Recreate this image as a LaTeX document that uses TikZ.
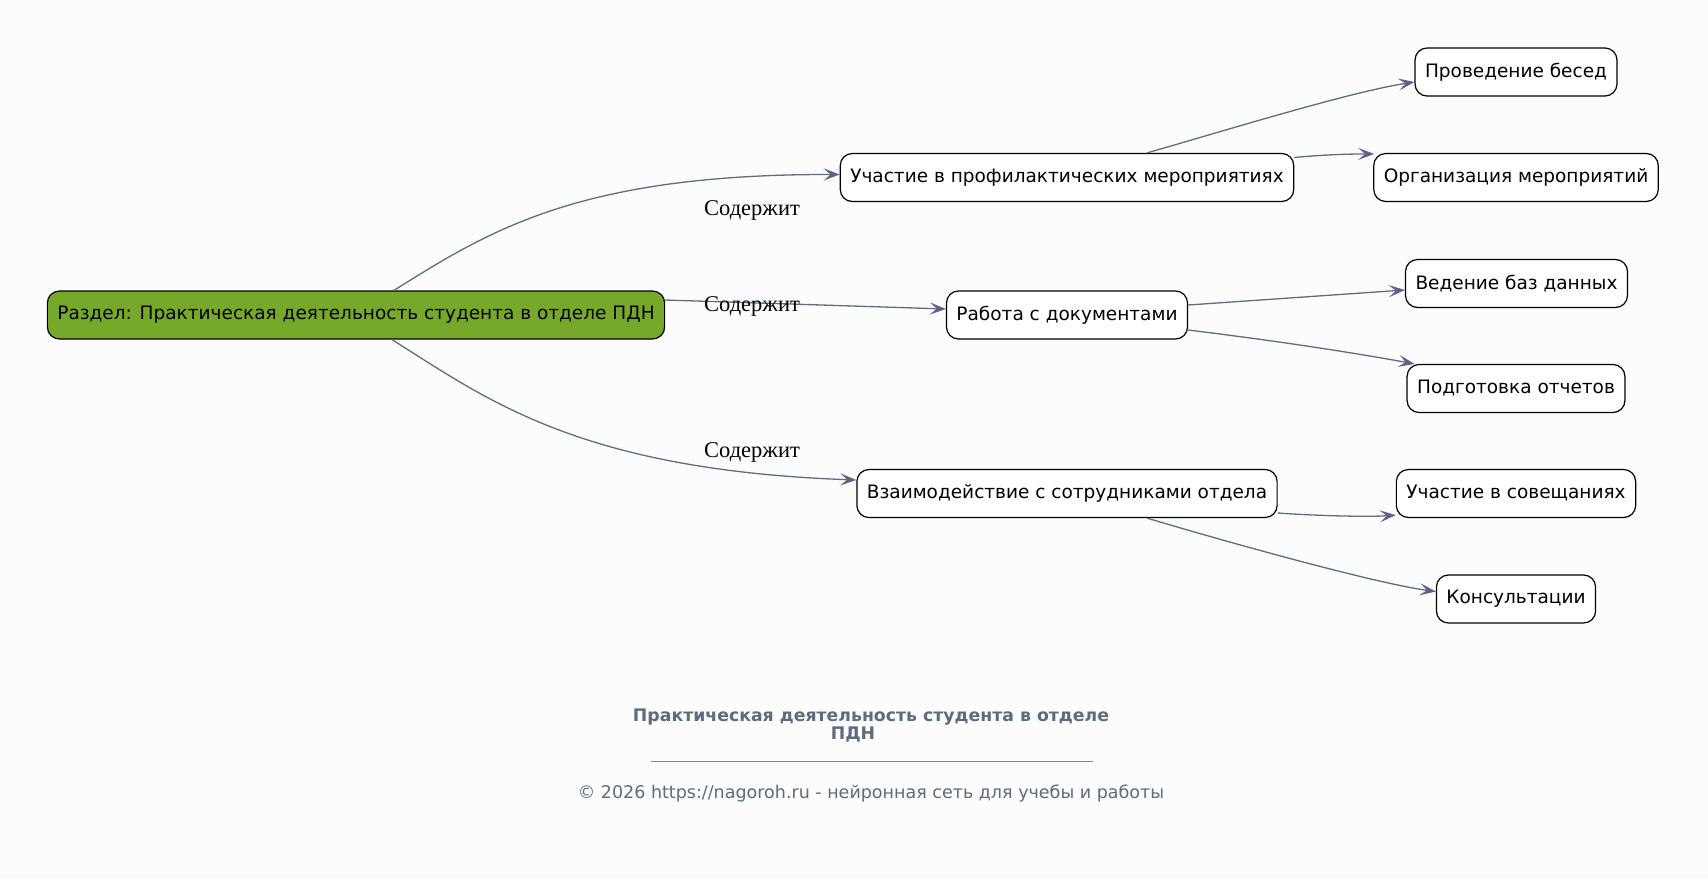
\documentclass[tikz,border=0pt]{standalone}
\usepackage{fontspec}
\setmainfont{DejaVu Sans}
\newfontfamily\edgefont{Liberation Serif}
\usetikzlibrary{arrows.meta,calc}

\definecolor{bgcol}{RGB}{252,252,252}
\definecolor{rootgreen}{RGB}{118,169,42}
\definecolor{edgecol}{RGB}{94,110,128}
\definecolor{tipcol}{RGB}{96,96,140}
\definecolor{footcol}{RGB}{90,108,125}

\begin{document}
\begin{tikzpicture}[x=1pt,y=-1pt,
    box/.style={draw=black,line width=1.2pt,rounded corners=12pt,fill=white,
      minimum height=48pt,inner xsep=10pt,font=\fontsize{18.5}{22}\selectfont},
    link/.style={draw=edgecol,line width=1.3pt,
      -{Stealth[length=16pt,width=12pt,inset=7pt,color=tipcol]}},
    tag/.style={font=\edgefont\fontsize{22.5}{26}\selectfont},
    foot/.style={text=footcol,font=\fontsize{17.5}{20}\selectfont}]
          \fill [bgcol] (0, 0) rectangle (1708, 879);

          % Nodes
          \node [box, fill=rootgreen] (root) at (356, 315)
            {Раздел: Практическая деятельность студента в отделе ПДН};
          \node [box] (prof) at (1067, 177.5) {Участие в профилактических мероприятиях};
          \node [box] (docs) at (1067, 315) {Работа с документами};
          \node [box] (staff) at (1067, 493.5) {Взаимодействие с сотрудниками отдела};
          \node [box] (talks) at (1516, 72) {Проведение бесед};
          \node [box] (events) at (1516, 177.5) {Организация мероприятий};
          \node [box] (dbase) at (1516.5, 283.5) {Ведение баз данных};
          \node [box] (reports) at (1516, 388.5) {Подготовка отчетов};
          \node [box] (meets) at (1516, 493.5) {Участие в совещаниях};
          \node [box] (consult) at (1516, 599) {Консультации};

          % Links from the section
          \draw [link] ($(root.north) + (38, 0)$) .. controls (490, 230) and (580, 174) ..
            ($(prof.west) + (0, -3)$);
          \draw [link] ($(root.east) + (0, -15)$) -- ($(docs.west) + (0, -6)$);
          \draw [link] ($(root.south) + (36, 0)$) .. controls (488, 400) and (580, 470) ..
            ($(staff.west) + (0, -13.5)$);
          \node [tag] (tag1) at (752, 210.5) {Содержит};
          \node [tag] (tag2) at (752, 306.5) {Содержит};
          \node [tag] (tag3) at (752, 452.5) {Содержит};

          % Links to the leaves
          \draw [link] ($(prof.north) + (80, 0)$) .. controls (1227, 130) and (1350, 92) ..
            ($(talks.west) + (0, 10)$);
          \draw [link] ($(prof.east) + (0, -20)$) .. controls (1320, 155) and (1345, 154) ..
            ($(events.north west) + (1, 1)$);
          \draw [link] ($(docs.east) + (0, -10)$) -- ($(dbase.west) + (0, 6.5)$);
          \draw [link] ($(docs.east) + (0, 15)$) .. controls (1270, 340) and (1350, 352) ..
            ($(reports.north west) + (8, 0)$);
          \draw [link] ($(staff.east) + (0, 19.5)$) .. controls (1320, 516) and (1370, 517) ..
            ($(meets.south west) + (0, -3)$);
          \draw [link] ($(staff.south) + (80, 0)$) .. controls (1227, 542) and (1376, 583.5) ..
            ($(consult.west) + (0, -7.5)$);

          % Footer
          \node [foot, font=\bfseries\fontsize{17.3}{20}\selectfont] (title) at (871, 717)
            {Практическая деятельность студента в отделе};
          \node [foot, font=\bfseries\fontsize{17.3}{20}\selectfont] (titleb) at (853, 735) {ПДН};
          \node [foot, text=footcol!80] (bar) at (872, 761) {\rule{442pt}{0.8pt}};
          \node [foot] (credit) at (871, 794)
            {© 2026 https://nagoroh.ru - нейронная сеть для учебы и работы};
        \end{tikzpicture}
\end{document}
